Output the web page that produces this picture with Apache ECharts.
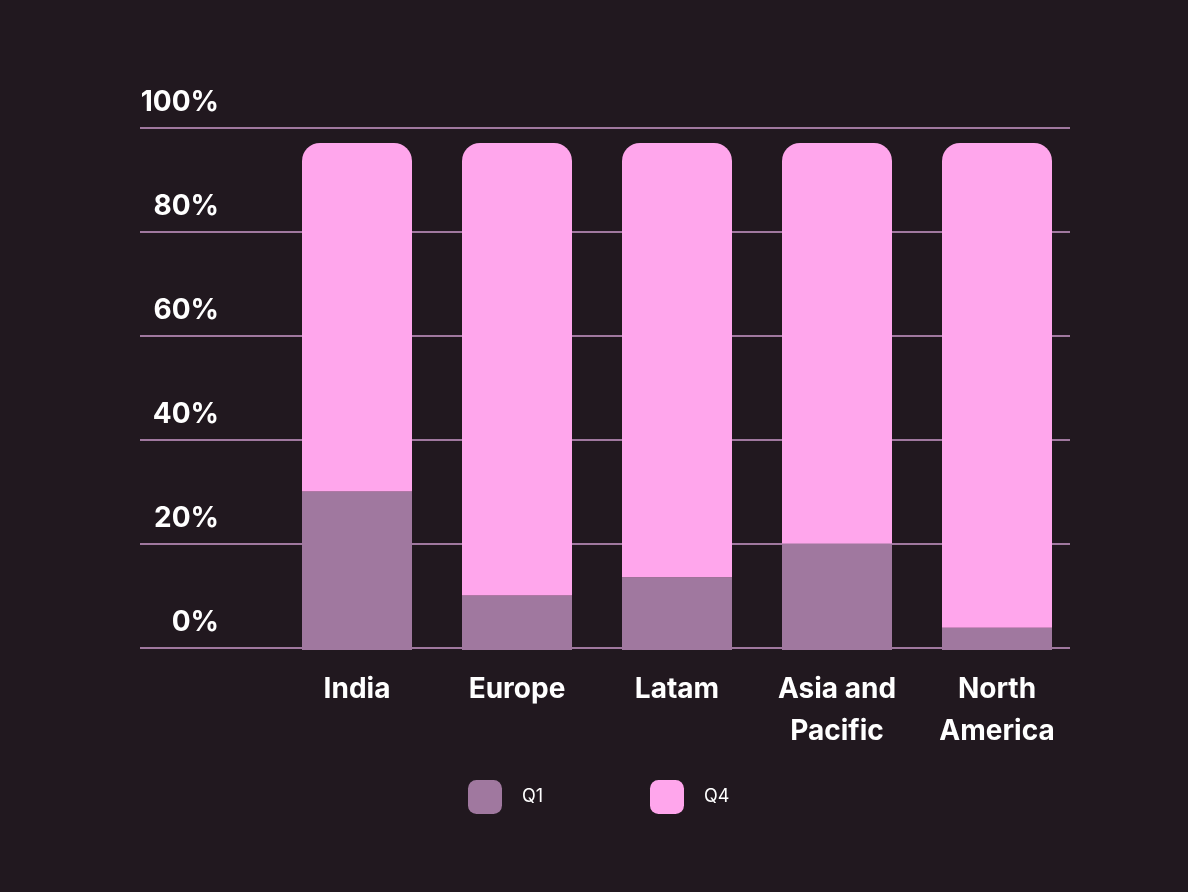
<!DOCTYPE html>
<html>
<head>
<meta charset="utf-8">
<script src="https://cdn.jsdelivr.net/npm/echarts@6/dist/echarts.min.js"></script>
<style>
html,body{margin:0;padding:0;background:#21181f;}
#c{width:1188px;height:892px;}
</style>
</head>
<body>
<div id="c"></div>
<script>
const categories = ['India', 'Europe', 'Latam', 'Asia and\nPacific', 'North\nAmerica'];
const q1Values = [30.5, 10.5, 14, 20.5, 4.3];
const q4Values = [67, 87, 83.5, 77, 93.2];
const yTicks = [0, 20, 40, 60, 80, 100];

const chart = echarts.init(document.getElementById('c'), null, {renderer: 'canvas'});
const FONT = 'Inter, "Noto Sans", sans-serif';
const legendText = {color: '#ffffff', fontFamily: FONT, fontSize: 18, padding: [0, 0, 0, 15]};
chart.setOption({
  backgroundColor: '#21181f',
  animation: false,
  grid: [
    {left: 140, right: 118, top: 128, bottom: 244},
    {left: 277, right: 111, top: 130, bottom: 242}
  ],
  legend: [
    {data: ['Q1'], left: 468, top: 780, padding: 0, itemWidth: 34, itemHeight: 34,
     textStyle: legendText, itemStyle: {borderRadius: 7}},
    {data: ['Q4'], left: 650, top: 780, padding: 0, itemWidth: 34, itemHeight: 34,
     textStyle: legendText, itemStyle: {borderRadius: 7}}
  ],
  xAxis: [
    {type: 'category', gridIndex: 0, data: categories, show: false},
    {type: 'category', gridIndex: 1, data: categories,
     axisLine: {show: false}, axisTick: {show: false},
     axisLabel: {color: '#ffffff', fontFamily: FONT, fontWeight: 'bold', fontSize: 28,
                 lineHeight: 42, margin: 19, interval: 0}}
  ],
  yAxis: [
    {type: 'value', gridIndex: 0, min: 0, max: 100, interval: 20,
     axisLine: {show: false}, axisTick: {show: false},
     splitLine: {show: true, lineStyle: {color: '#a0789f', width: 2}},
     axisLabel: {inside: true, margin: 79, align: 'right', verticalAlign: 'bottom',
                 padding: [0, 0, 11, 0], color: '#ffffff', fontFamily: FONT,
                 fontWeight: 'bold', fontSize: 28, lineHeight: 28,
                 formatter: v => yTicks.includes(v) ? v + '%' : ''}},
    {type: 'value', gridIndex: 1, min: 0, max: 100, show: false, splitLine: {show: false}}
  ],
  series: [
    {name: 'Q1', type: 'bar', stack: 'a', xAxisIndex: 1, yAxisIndex: 1, barWidth: 110,
     data: q1Values, itemStyle: {color: '#a0789f'}},
    {name: 'Q4', type: 'bar', stack: 'a', xAxisIndex: 1, yAxisIndex: 1, barWidth: 110,
     data: q4Values, itemStyle: {color: '#ffa6ec', borderRadius: [18, 18, 0, 0]}}
  ]
});
</script>
</body>
</html>
